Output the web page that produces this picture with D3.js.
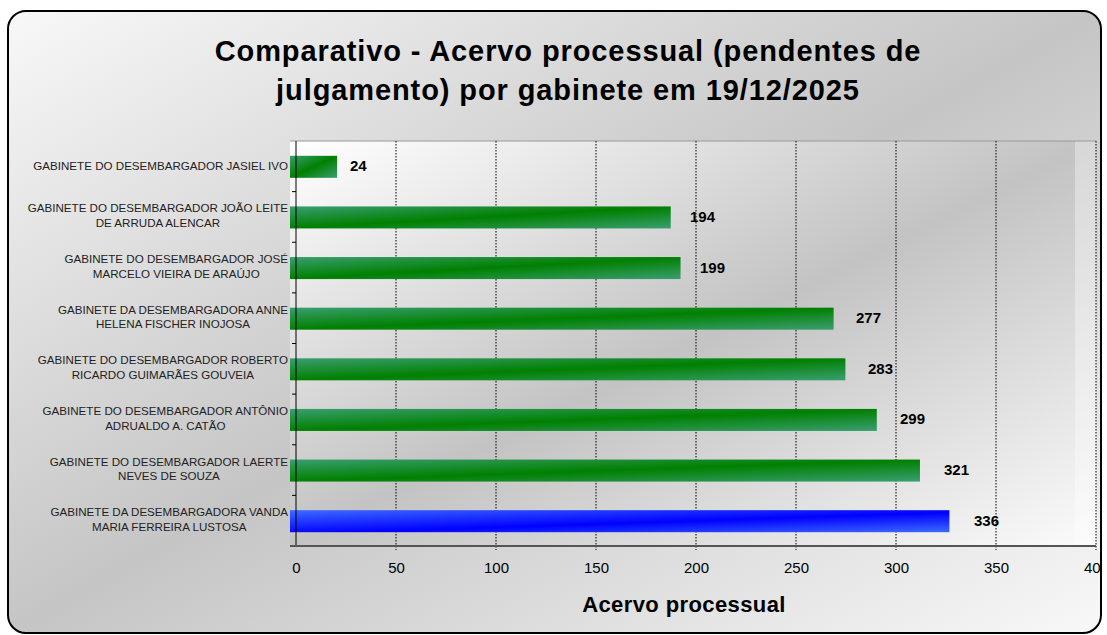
<!DOCTYPE html>
<html>
<head>
<meta charset="utf-8">
<script src="https://cdn.jsdelivr.net/npm/d3@7"></script>
<style>
  body { margin: 0; background: #fff; }
  text { font-family: Arial, "Liberation Sans", sans-serif; }
</style>
</head>
<body>
<script>
// data
const categories = [
  "GABINETE DO DESEMBARGADOR JASIEL IVO",
  "GABINETE DO DESEMBARGADOR JOÃO LEITE DE ARRUDA ALENCAR",
  "GABINETE DO DESEMBARGADOR JOSÉ MARCELO VIEIRA DE ARAÚJO",
  "GABINETE DA DESEMBARGADORA ANNE HELENA FISCHER INOJOSA",
  "GABINETE DO DESEMBARGADOR ROBERTO RICARDO GUIMARÃES GOUVEIA",
  "GABINETE DO DESEMBARGADOR ANTÔNIO ADRUALDO A. CATÃO",
  "GABINETE DO DESEMBARGADOR LAERTE NEVES DE SOUZA",
  "GABINETE DA DESEMBARGADORA VANDA MARIA FERREIRA LUSTOSA"
];
const categoryLines = [
  ["GABINETE DO DESEMBARGADOR JASIEL IVO"],
  ["GABINETE DO DESEMBARGADOR JOÃO LEITE", "DE ARRUDA ALENCAR"],
  ["GABINETE DO DESEMBARGADOR JOSÉ", "MARCELO VIEIRA DE ARAÚJO"],
  ["GABINETE DA DESEMBARGADORA ANNE", "HELENA FISCHER INOJOSA"],
  ["GABINETE DO DESEMBARGADOR ROBERTO", "RICARDO GUIMARÃES GOUVEIA"],
  ["GABINETE DO DESEMBARGADOR ANTÔNIO", "ADRUALDO A. CATÃO"],
  ["GABINETE DO DESEMBARGADOR LAERTE", "NEVES DE SOUZA"],
  ["GABINETE DA DESEMBARGADORA VANDA", "MARIA FERREIRA LUSTOSA"]
];
const values = [24, 194, 199, 277, 283, 299, 321, 336];
const highlighted = ["GABINETE DA DESEMBARGADORA VANDA MARIA FERREIRA LUSTOSA"];
const xTicks = [0, 50, 100, 150, 200, 250, 300, 350, 400];
const titleLines = ["Comparativo - Acervo processual (pendentes de", "julgamento) por gabinete em 19/12/2025"];
const xTitle = "Acervo processual";

const data = categories.map((c, i) => ({ name: c, lines: categoryLines[i], value: values[i] }));

const W = 1107, H = 635;
const plot = { left: 296, right: 1096, top: 141, bottom: 546, barLeft: 290, barRight: 1075 };

const svg = d3.select("body").append("svg")
  .attr("width", W)
  .attr("height", H);

const defs = svg.append("defs");

function diagGrad(id, stops) {
  const g = defs.append("linearGradient")
    .attr("id", id)
    .attr("x1", 0).attr("y1", 0).attr("x2", 1).attr("y2", 1);
  stops.forEach(s => g.append("stop").attr("offset", s[0]).attr("stop-color", s[1]));
}
diagGrad("bgGrad", [[0, "#f8f8f8"], [0.5, "#c5c5c5"], [1, "#f8f8f8"]]);
diagGrad("plotGrad", [[0, "#ffffff"], [0.5, "#c3c3c3"], [1, "#fbfbfb"]]);
diagGrad("greenGrad", [[0, "#3a9e70"], [0.5, "#008000"], [1, "#3a9e70"]]);
diagGrad("blueGrad", [[0, "#3d6bff"], [0.55, "#0000ff"], [1, "#3d6bff"]]);

const frame = { x: 8, y: 11, w: 1093, h: 622, r: 18 };

defs.append("clipPath").attr("id", "frameClip")
  .append("rect")
  .attr("x", frame.x).attr("y", frame.y)
  .attr("width", frame.w).attr("height", frame.h)
  .attr("rx", frame.r);

const root = svg.append("g").attr("clip-path", "url(#frameClip)");

root.append("rect")
  .attr("x", frame.x).attr("y", frame.y)
  .attr("width", frame.w).attr("height", frame.h)
  .attr("fill", "url(#bgGrad)");

const x = d3.scaleLinear().domain([0, 400]).range([plot.left, plot.right]);
const xBar = d3.scaleLinear().domain([0, 400]).range([plot.barLeft, plot.barRight]);
const y = d3.scaleBand()
  .domain(categories)
  .range([plot.top, plot.bottom])
  .paddingInner(0.565)
  .paddingOuter(0.2825);

// plot area
root.append("rect")
  .attr("x", plot.barLeft).attr("y", plot.top)
  .attr("width", plot.right - plot.barLeft).attr("height", plot.bottom - plot.top)
  .attr("fill", "url(#plotGrad)");

root.append("rect")
  .attr("x", plot.barRight).attr("y", plot.top)
  .attr("width", plot.right - plot.barRight).attr("height", plot.bottom - plot.top)
  .attr("fill", "#fff")
  .attr("opacity", 0.35);

root.append("line")
  .attr("x1", plot.barLeft).attr("x2", plot.right)
  .attr("y1", plot.top).attr("y2", plot.top)
  .attr("stroke", "#999");

// gridlines
root.append("g")
  .selectAll("line")
  .data(xTicks.filter(d => d > 0))
  .enter()
  .append("line")
  .attr("x1", d => x(d)).attr("x2", d => x(d))
  .attr("y1", plot.top).attr("y2", plot.bottom + 4)
  .attr("stroke", "#000")
  .attr("stroke-dasharray", "1.5,1.5");

// bars
root.append("g")
  .selectAll("rect")
  .data(data)
  .enter()
  .append("rect")
  .attr("x", xBar(0))
  .attr("y", d => y(d.name) + 0.5)
  .attr("width", d => xBar(d.value) - xBar(0))
  .attr("height", y.bandwidth())
  .attr("fill", d => highlighted.includes(d.name) ? "url(#blueGrad)" : "url(#greenGrad)");

// value labels
root.append("g")
  .selectAll("text")
  .data(data)
  .enter()
  .append("text")
  .attr("x", d => x(d.value) + 6)
  .attr("y", d => y(d.name) + y.bandwidth() / 2 + 5)
  .attr("font-size", 15)
  .attr("font-weight", "bold")
  .attr("fill", "#000")
  .text(d => d.value);

// axes
root.append("line")
  .attr("x1", plot.left).attr("x2", plot.left)
  .attr("y1", plot.top).attr("y2", plot.bottom)
  .attr("stroke", "#000");

const pad = (y.step() - y.bandwidth()) / 2;
const bounds = categories.map(c => y(c) - pad).concat([plot.bottom]);
root.append("g")
  .selectAll("line")
  .data(bounds.slice(1))
  .enter()
  .append("line")
  .attr("x1", plot.left - 4).attr("x2", plot.left)
  .attr("y1", d => d).attr("y2", d => d)
  .attr("stroke", "#000");

const xAxis = root.append("g")
  .attr("transform", `translate(0,${plot.bottom})`)
  .call(d3.axisBottom(x).tickValues(xTicks).tickSize(0).tickPadding(16.5));
xAxis.select(".domain").remove();
xAxis.selectAll("text")
  .attr("font-size", 15)
  .attr("font-family", "Arial, 'Liberation Sans', sans-serif")
  .attr("fill", "#000");

root.append("line")
  .attr("x1", plot.barLeft).attr("x2", plot.right)
  .attr("y1", plot.bottom).attr("y2", plot.bottom)
  .attr("stroke", "#555")
  .attr("stroke-width", 2);

// category labels, block right-aligned, lines centred
const labelRight = 288;
data.forEach(d => {
  const cy = y(d.name) + y.bandwidth() / 2;
  const g = root.append("g");
  const texts = d.lines.map((line, i) => {
    const by = d.lines.length === 1 ? cy + 4 : cy - 4.5 + i * 14.8;
    return g.append("text")
      .attr("y", by)
      .attr("font-size", 11.6)
      .attr("fill", "#222")
      .attr("text-anchor", "middle")
      .text(line);
  });
  const wMax = d3.max(texts, t => t.node().getComputedTextLength());
  texts.forEach(t => t.attr("x", labelRight - wMax / 2));
});

// titles
root.append("g")
  .selectAll("text")
  .data(titleLines)
  .enter()
  .append("text")
  .attr("x", 568)
  .attr("y", (d, i) => 61 + i * 38.5)
  .attr("text-anchor", "middle")
  .attr("font-size", 29)
  .attr("font-weight", "bold")
  .attr("letter-spacing", 0.9)
  .attr("fill", "#000")
  .text(d => d);

root.append("text")
  .attr("x", 684)
  .attr("y", 612)
  .attr("text-anchor", "middle")
  .attr("font-size", 22)
  .attr("font-weight", "bold")
  .attr("letter-spacing", 0.4)
  .attr("fill", "#000")
  .text(xTitle);

// frame
svg.append("rect")
  .attr("x", frame.x).attr("y", frame.y)
  .attr("width", frame.w).attr("height", frame.h)
  .attr("rx", frame.r)
  .attr("fill", "none")
  .attr("stroke", "#000")
  .attr("stroke-width", 2);
</script>
</body>
</html>
